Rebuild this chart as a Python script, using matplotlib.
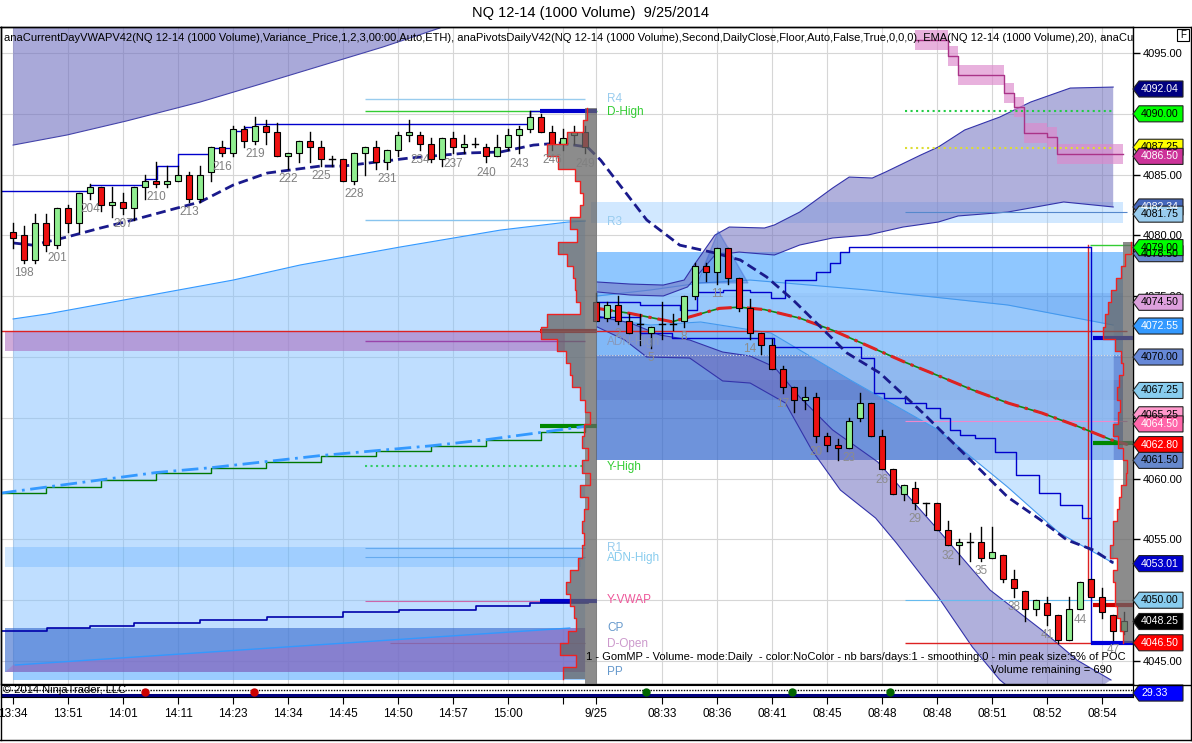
import numpy as np
import matplotlib
matplotlib.use("Agg")
import matplotlib.pyplot as plt
from matplotlib.patches import Polygon, Rectangle
from matplotlib.lines import Line2D

plt.rcParams['font.family'] = ['Liberation Sans', 'DejaVu Sans']

# ---------------- candles ----------------
# previous session, bars 197..249
prev_first = 197
prev_open = [4080.25, 4080.0, 4078.0, 4081.0, 4079.25, 4082.25, 4081.0, 4083.5, 4084.0, 4082.5,
             4082.75, 4082.25, 4084.0, 4084.5, 4084.25, 4084.5, 4085.0, 4083.0, 4085.25, 4087.25,
             4086.75, 4088.75, 4087.75, 4089.0, 4088.5, 4086.5, 4086.75, 4087.75, 4087.25, 4086.25,
             4086.25, 4084.5, 4086.75, 4087.25, 4086.0, 4087.0, 4088.25, 4088.25, 4087.5, 4086.25,
             4088.0, 4087.25, 4087.5, 4087.25, 4086.5, 4087.25, 4088.25, 4088.75, 4089.75, 4088.5,
             4087.5, 4088.25, 4088.5]
prev_high = [4081.0, 4080.75, 4081.75, 4081.75, 4082.25, 4082.5, 4083.5, 4084.25, 4084.0, 4084.0,
             4083.5, 4084.0, 4085.0, 4086.0, 4085.75, 4085.75, 4085.25, 4085.75, 4087.25, 4087.75,
             4089.0, 4089.0, 4089.75, 4089.5, 4089.25, 4086.75, 4087.75, 4088.5, 4087.75, 4086.5,
             4086.25, 4086.75, 4087.25, 4087.75, 4087.0, 4088.5, 4089.5, 4088.5, 4088.0, 4088.0,
             4088.5, 4088.25, 4088.0, 4087.5, 4088.25, 4088.75, 4089.0, 4090.25, 4090.0, 4089.0,
             4088.75, 4089.0, 4089.0]
prev_low = [4079.0, 4077.75, 4077.75, 4078.75, 4079.0, 4080.25, 4080.25, 4083.0, 4082.0, 4081.5,
            4081.75, 4081.25, 4083.0, 4084.0, 4084.0, 4084.5, 4082.75, 4082.75, 4084.5, 4086.5,
            4086.5, 4087.25, 4087.5, 4087.5, 4086.5, 4085.5, 4086.0, 4086.0, 4085.75, 4085.75,
            4084.5, 4084.25, 4085.0, 4085.5, 4085.5, 4086.5, 4087.75, 4087.0, 4086.0, 4085.75,
            4086.75, 4086.75, 4087.25, 4086.0, 4086.5, 4087.0, 4086.75, 4088.5, 4088.5, 4087.0,
            4087.0, 4087.5, 4086.75]
prev_close = [4079.75, 4078.0, 4081.0, 4079.25, 4082.25, 4081.0, 4083.5, 4084.0, 4082.5, 4082.75,
              4082.25, 4084.0, 4084.5, 4084.25, 4084.5, 4085.0, 4083.0, 4085.0, 4087.25, 4086.75,
              4088.75, 4087.75, 4089.0, 4088.5, 4086.5, 4086.75, 4087.75, 4087.25, 4086.25, 4086.25,
              4084.5, 4086.75, 4087.25, 4086.0, 4087.0, 4088.25, 4088.5, 4087.5, 4086.25, 4088.0,
              4087.25, 4087.5, 4087.5, 4086.5, 4087.25, 4088.25, 4088.75, 4089.75, 4088.5, 4087.5,
              4088.0, 4088.5, 4087.25]

# 9/25 session, bars 0..48 (drawn right after bar 249)
today_first = 250
today_open = [4074.5, 4073.25, 4074.25, 4073.0, 4072.75, 4072.0, 4072.75, 4072.75, 4073.0, 4075.0,
              4077.5, 4077.0, 4079.0, 4076.5, 4074.0, 4072.0, 4071.0, 4069.0, 4067.5, 4066.5,
              4066.75, 4063.5, 4062.75, 4062.5, 4065.0, 4066.25, 4063.5, 4060.75, 4058.75, 4059.25,
              4058.0, 4058.0, 4055.75, 4054.5, 4054.75, 4054.75, 4053.5, 4053.75, 4051.75, 4050.75,
              4049.25, 4049.75, 4048.75, 4046.75, 4049.25, 4051.75, 4050.25, 4048.75, 4047.5]
today_high = [4075.25, 4074.5, 4075.0, 4073.5, 4073.5, 4072.5, 4074.5, 4073.5, 4075.0, 4077.75,
              4077.75, 4079.0, 4079.0, 4076.5, 4074.75, 4072.0, 4071.5, 4069.25, 4067.5, 4067.5,
              4067.0, 4063.75, 4063.25, 4065.0, 4067.0, 4066.25, 4064.0, 4060.75, 4059.5, 4059.75,
              4058.0, 4058.0, 4056.5, 4055.0, 4055.5, 4056.0, 4056.0, 4053.75, 4052.5, 4050.75,
              4050.0, 4050.25, 4048.75, 4050.25, 4051.5, 4051.75, 4051.0, 4048.75, 4049.0]
today_low = [4073.0, 4073.0, 4072.75, 4072.0, 4071.0, 4070.75, 4071.5, 4072.25, 4072.5, 4074.75,
             4076.25, 4076.0, 4076.0, 4073.75, 4071.5, 4070.25, 4069.0, 4067.0, 4065.5, 4065.75,
             4063.0, 4062.25, 4061.5, 4062.5, 4064.75, 4063.5, 4060.75, 4058.75, 4058.25, 4057.5,
             4057.0, 4055.75, 4054.5, 4053.0, 4053.25, 4053.25, 4053.5, 4051.5, 4050.25, 4048.25,
             4048.75, 4048.0, 4046.5, 4046.75, 4049.25, 4050.25, 4048.5, 4046.75, 4047.25]
today_close = [4073.0, 4074.25, 4073.0, 4072.0, 4072.75, 4072.5, 4072.75, 4072.75, 4075.0, 4077.5,
               4077.0, 4079.0, 4076.5, 4074.0, 4072.0, 4071.0, 4069.0, 4067.5, 4066.5, 4066.75,
               4063.5, 4062.75, 4062.5, 4064.75, 4066.25, 4063.5, 4060.75, 4058.75, 4059.5, 4058.0,
               4058.0, 4055.75, 4054.5, 4054.75, 4054.75, 4053.5, 4054.0, 4051.75, 4051.0, 4049.25,
               4050.0, 4048.75, 4046.75, 4049.25, 4051.5, 4050.25, 4049.0, 4047.5, 4048.25]

# ---------------- indicator lines (bar index, price) ----------------
vwap_idx = [197.0, 198.8, 201.9, 204.9, 207.9, 211.9, 214.0, 217.0, 220.1, 224.9, 227.0, 233.1,
            238.3, 241.3, 244.3, 246.7, 249.2, 250.4, 254.6, 257.6, 260.6, 263.1, 265.5, 267.9,
            270.4, 272.8, 275.8, 279.7, 284.3, 287.4, 290.4, 292.8, 295.2, 297.0]
vwap_px = [4079.38, 4079.2, 4079.87, 4080.6, 4081.27, 4082.25, 4082.75, 4084.14, 4085.13, 4085.7,
           4085.7, 4086.37, 4086.78, 4086.86, 4087.43, 4087.6, 4087.27, 4086.2, 4081.27, 4079.2,
           4078.6, 4077.98, 4076.58, 4074.69, 4072.47, 4070.33, 4068.68, 4065.4, 4061.28, 4058.49,
           4056.6, 4054.95, 4054.13, 4053.07]

# previous session: upper band edge and lower (blue) area edge
prev_upper_idx = [197.0, 201.9, 207.3, 214.0, 219.5, 230.6, 235.8]
prev_upper_px = [4087.43, 4088.26, 4089.41, 4090.97, 4092.45, 4095.49, 4097.06]
prev_lower_idx = [197.0, 200.1, 217.0, 223.1, 232.2, 241.3, 247.4, 249.0]
prev_lower_px = [4073.13, 4073.54, 4076.33, 4077.57, 4079.05, 4080.44, 4081.10, 4081.18]

# previous session step lines
prev_hi_step_idx = [195.8, 204.0, 209.0, 210.1, 212.0, 215.1, 216.9, 218.1, 219.0, 244.0, 249.5]
prev_hi_step_px = [4083.68, 4084.14, 4084.63, 4085.67, 4086.69, 4087.16, 4088.6, 4088.9, 4089.16, 4090.2, 4090.2]
prev_lo_step_idx = [195.8, 200.1, 204.0, 208.0, 214.0, 220.1, 227.0, 232.1, 239.1, 244.0, 249.3]
prev_lo_step_px = [4047.47, 4047.71, 4047.88, 4048.15, 4048.37, 4048.64, 4049.03, 4049.22, 4049.52, 4049.77, 4049.77]
prev_ema_idx = [195.8, 200, 205, 210, 215, 220, 225, 230, 235, 240, 245, 249]
prev_ema_px = [4058.8, 4059.3, 4059.9, 4060.5, 4060.9, 4061.4, 4061.9, 4062.3, 4062.7, 4063.2, 4063.8, 4064.3]

# 9/25 session bands
up_top_idx = [250.1, 253.1, 256.1, 258.0, 258.9, 260.8, 262.1, 265.3, 266.2, 268.5, 271.5, 273.0,
              275.1, 276.3, 279.5, 281.1, 283.5, 286.7, 289.5, 293.1, 297.0]
up_top_px = [4076.17, 4076.0, 4075.92, 4076.33, 4077.57, 4080.03, 4080.69, 4080.61, 4080.86, 4081.92,
             4083.90, 4084.80, 4084.72, 4085.21, 4086.61, 4087.27, 4088.67, 4089.74, 4090.97, 4092.12, 4092.20]
up_bot_idx = [250.1, 253.1, 256.1, 258.3, 260.8, 263.0, 266.2, 268.5, 271.5, 274.7, 277.9, 281.1,
              282.9, 287.4, 292.5, 297.0]
up_bot_px = [4075.35, 4075.10, 4075.02, 4075.76, 4078.39, 4078.63, 4078.39, 4079.21, 4079.79, 4080.03,
             4080.69, 4081.10, 4081.60, 4081.92, 4082.75, 4082.34]
lo_top_idx = [250.1, 253.1, 255.8, 258.5, 261.5, 264.0, 266.2, 268.5, 271.5, 275.6, 281.1, 285.8,
              290.5, 293.7, 296.8]
lo_top_px = [4073.37, 4072.80, 4071.81, 4071.40, 4070.41, 4070.08, 4069.18, 4066.71, 4064.00, 4061.37,
             4055.77, 4050.84, 4047.55, 4045.08, 4043.44]
lo_bot_idx = [250.1, 252.6, 254.6, 258.5, 261.5, 264.0, 267.2, 269.6, 272.2, 275.4, 277.3, 281.1,
              284.2, 286.7, 291.2]
lo_bot_px = [4072.47, 4071.40, 4070.00, 4069.92, 4068.03, 4067.86, 4066.22, 4062.35, 4059.06, 4056.76,
             4054.70, 4050.26, 4046.15, 4043.44, 4040.15]
in_top_idx = [250.1, 254.9, 259.5, 264.0, 274.7, 287.4, 297.0]
in_top_px = [4075.02, 4075.51, 4076.09, 4076.33, 4075.51, 4074.28, 4072.63]
in_bot_idx = [250.1, 254.9, 259.5, 265.9, 273.1, 281.1, 287.4, 292.1, 297.0]
in_bot_px = [4073.21, 4072.63, 4072.88, 4071.97, 4068.11, 4064.00, 4059.31, 4055.53, 4053.06]

ema_idx = [250.1, 253.0, 256.9, 258.9, 261.2, 263.0, 265.3, 268.5, 271.5, 275.5, 278.0, 281.0,
           284.2, 287.5, 290.5, 293.5, 296.8, 298.3]
ema_px = [4074.0, 4073.6, 4072.9, 4073.4, 4074.0, 4074.1, 4073.9, 4073.2, 4072.2, 4070.6, 4069.6,
          4068.5, 4067.3, 4066.2, 4065.4, 4064.4, 4063.2, 4062.8]

hi_step_idx = [250.1, 254.0, 257.6, 259.2, 261.5, 264.0, 265.9, 267.2, 270.0, 271.3, 272.2, 273.0, 294.9]
hi_step_px = [4074.52, 4074.28, 4073.87, 4075.35, 4075.51, 4075.35, 4074.85, 4076.33, 4076.99, 4077.73,
              4078.63, 4079.05, 4079.05]
lo_step_idx = [250.1, 254.0, 256.9, 266.2, 274.1, 275.3, 276.2, 278.1, 280.0, 281.3, 282.2, 283.1,
               284.4, 286.3, 288.2, 290.3, 292.2, 294.2, 294.9]
lo_step_px = [4073.29, 4071.97, 4071.56, 4070.82, 4069.92, 4067.04, 4066.63, 4066.22, 4065.81, 4064.98,
              4064.00, 4063.59, 4063.34, 4062.19, 4060.30, 4058.82, 4057.83, 4056.76, 4056.76]

pink_idx = [279.0, 282.0, 282.9, 287.1, 288.0, 288.9, 291.0, 291.9, 297.9]
pink_px = [4096.07, 4094.75, 4093.19, 4091.71, 4090.56, 4088.42, 4088.09, 4086.69, 4086.69]

triangle_idx = [261.1, 259.2, 263.8]
triangle_px = [4080.36, 4076.09, 4076.09]

# volume profiles (price level, volume)
prev_prof_price = [4090, 4089, 4088, 4087, 4086, 4085, 4084, 4083, 4082, 4081, 4080, 4079, 4078, 4077,
                   4076, 4075, 4074, 4073, 4072, 4071, 4070, 4069, 4068, 4067, 4066, 4065, 4064, 4063,
                   4062, 4061, 4060, 4059, 4058, 4057, 4056, 4055, 4054, 4053, 4052, 4051, 4050, 4049,
                   4048, 4047, 4046, 4045, 4044]
prev_prof_vol = [10, 14, 30, 50, 39, 22, 17, 14, 17, 27, 20, 39, 30, 24, 22, 21, 17, 50, 56, 40, 31, 27,
                 25, 17, 12, 7, 13, 15, 9, 15, 7, 17, 9, 13, 15, 13, 15, 19, 27, 31, 27, 23, 21, 29,
                 37, 21, 34]
today_prof_price = [4079, 4078, 4077, 4076, 4075, 4074, 4073, 4072, 4071, 4070, 4069, 4068, 4067, 4066,
                    4065, 4064, 4063, 4062, 4061, 4060, 4059, 4058, 4057, 4056, 4055, 4054, 4053, 4052,
                    4051, 4050, 4049, 4048, 4047]
today_prof_vol = [2, 8, 12, 17, 22, 25, 28, 30, 18, 12, 10, 14, 16, 13, 15, 20, 15, 10, 6, 7, 12, 14,
                  16, 20, 20, 23, 16, 20, 18, 18, 16, 13, 10]

# axis texts
prev_ticks = [197, 202, 207, 212, 217, 222, 227, 232, 237, 242, 247]
prev_tick_labels = ['13:34', '13:51', '14:01', '14:11', '14:23', '14:34', '14:45', '14:50', '14:57', '15:00', '']
today_ticks = [250, 256, 261, 266, 271, 276, 281, 286, 291, 296]
today_tick_labels = ['9/25', '08:33', '08:36', '08:41', '08:45', '08:48', '08:48', '08:51', '08:52', '08:54']
price_ticks = [4045, 4050, 4055, 4060, 4065, 4070, 4075, 4080, 4085, 4090, 4095]
# 4050 / 4070 / 4090 sit fully under price tags in the original, so they stay blank
price_tick_labels = ['4045.00', '', '4055.00', '4060.00', '4065.00', '', '4075.00', '4080.00',
                     '4085.00', '', '4095.00']

level_names = ['R4', 'D-High', 'R3', 'ADN-High', 'Y-High', 'R1', 'ADN-High', 'Y-VWAP', 'CP', 'D-Open', 'PP']
level_px = [4091.22, 4090.15, 4081.10, 4071.24, 4060.95, 4054.29, 4053.47, 4050.02, 4047.71, 4046.40, 4044.10]
level_col = ['#99ccee', '#33cc33', '#99ccee', '#8899bb', '#33cc33', '#99ccee', '#88ccee', '#ee5599',
             '#6699cc', '#cc99cc', '#6699cc']

tag_px = [4092.04, 4090.00, 4087.25, 4086.50, 4082.34, 4081.75, 4078.50, 4079.00, 4074.50, 4072.55,
          4070.00, 4067.25, 4065.25, 4064.50, 4062.80, 4061.50, 4053.01, 4050.00, 4048.25, 4046.50]
tag_face = ['#000080', '#00ff00', '#ffff00', '#cc3399', '#4466bb', '#99ccee', '#6688cc', '#00ff00',
            '#dda0dd', '#3399ff', '#6688d8', '#88ccee', '#ff99cc', '#ff66aa', '#ff0000', '#6688cc',
            '#0000cc', '#88ccee', '#000000', '#ff0000']
tag_tc = ['white', 'black', 'black', 'white', 'white', 'black', 'black', 'black', 'black', 'white',
          'black', 'black', 'black', 'white', 'white', 'black', 'white', 'black', 'white', 'white']

header = ("anaCurrentDayVWAPV42(NQ 12-14 (1000 Volume),Variance_Price,1,2,3,00:00,Auto,ETH), "
          "anaPivotsDailyV42(NQ 12-14 (1000 Volume),Second,DailyClose,Floor,Auto,False,True,0,0,0), "
          "EMA(NQ 12-14 (1000 Volume),20), anaCurrentDayOHL")

# ---------------- figure ----------------
W, H = 1192, 743
fig = plt.figure(figsize=(W / 100, H / 100), dpi=100)
fig.patch.set_facecolor('white')


def fx(p):
    return p / W


def fy(p):
    return 1 - p / H


ax = fig.add_axes([fx(1), fy(684), fx(1133) - fx(1), fy(27) - fy(684)])
ax.set_xlim(195.9, 298.8)
ax.set_ylim(4043.11, 4097.14)

for t in prev_ticks + today_ticks:
    ax.axvline(t, color='#d6d6d6', lw=0.8, zorder=0.5)
for p in price_ticks:
    ax.axhline(p, color='#d6d6d6', lw=0.8, zorder=0.5)

# previous-session areas
ax.add_patch(Polygon([(197.0, 4098)] + list(zip(prev_upper_idx, prev_upper_px)) + [(236.5, 4098)],
                     closed=True, fc='#7070c0', alpha=0.6, ec='none', zorder=1))
ax.plot(prev_upper_idx, prev_upper_px, color='#4444aa', lw=0.8, zorder=1.1)
ax.add_patch(Polygon([(197.0, 4043.44)] + list(zip(prev_lower_idx, prev_lower_px)) + [(249.0, 4043.44)],
                     closed=True, fc='#80bfff', alpha=0.5, ec='none', zorder=1))
ax.plot(prev_lower_idx, prev_lower_px, color='#3399ff', lw=0.8, zorder=1.1)
ax.add_patch(Rectangle((196.3, 4070.49), 50.9, 1.57, fc='#aa66bb', alpha=0.55, ec='none', zorder=1.2))
ax.add_patch(Rectangle((196.3, 4052.73), 52.3, 1.65, fc='#3399ff', alpha=0.22, ec='none', zorder=1.2))
ax.add_patch(Rectangle((196.3, 4044.10), 52.7, 3.61, fc='#3366cc', alpha=0.6, ec='none', zorder=1.2))
ax.add_patch(Polygon([(197.0, 4044.67), (247.6, 4047.71), (249.0, 4047.71), (249.0, 4044.10), (196.3, 4044.10)],
                     closed=True, fc='#aa66bb', alpha=0.45, ec='none', zorder=1.3))
ax.plot([197.2, 247.6], [4044.67, 4047.71], color='#3399ff', lw=1, zorder=1.4)
ax.add_patch(Rectangle((197.0, 4043.44), 52.0, 0.66, fc='#3399ff', alpha=0.25, ec='none', zorder=1.2))

# 9/25 zones
ax.add_patch(Rectangle((249.5, 4081.02), 48.4, 1.73, fc='#99ccff', alpha=0.45, ec='none', zorder=1))
ax.add_patch(Rectangle((250.0, 4061.53), 47.9, 17.1, fc='#3399ff', alpha=0.55, ec='none', zorder=1))
ax.add_patch(Rectangle((250.0, 4070.17), 47.9, 5.09, fc='#3366cc', alpha=0.15, ec='none', zorder=1.05))
ax.add_patch(Rectangle((250.0, 4061.53), 47.9, 8.64, fc='#333399', alpha=0.35, ec='none', zorder=1.05))
ax.add_patch(Rectangle((250.0, 4066.46), 47.9, 1.65, fc='#333399', alpha=0.12, ec='none', zorder=1.06))

# inner light band
in_x = sorted(set(in_top_idx + in_bot_idx))
ax.fill_between(in_x, np.interp(in_x, in_bot_idx, in_bot_px), np.interp(in_x, in_top_idx, in_top_px),
                color='#a8d4ff', alpha=0.6, lw=0, zorder=1.5)
ax.plot(in_top_idx, in_top_px, color='#4499ee', lw=0.8, zorder=1.55)
ax.plot(in_bot_idx, in_bot_px, color='#4499ee', lw=0.8, zorder=1.55)

# upper / lower deviation bands
for ti, tp, bi, bp in [(up_top_idx, up_top_px, up_bot_idx, up_bot_px),
                       (lo_top_idx, lo_top_px, lo_bot_idx, lo_bot_px)]:
    verts = list(zip(ti, tp)) + list(zip(bi, bp))[::-1]
    ax.add_patch(Polygon(verts, closed=True, fc='#7070c0', alpha=0.55, ec='none', zorder=1.7))
    ax.plot(ti, tp, color='#3333aa', lw=0.8, zorder=1.75)
    ax.plot(bi, bp, color='#3333aa', lw=0.8, zorder=1.75)

ax.add_patch(Polygon(list(zip(triangle_idx, triangle_px)), closed=True, fc='#3366cc', alpha=0.35,
                     ec='#3355cc', lw=1, zorder=1.8))

# pink stair band
pc = np.array(pink_px)
ax.fill_between(pink_idx, pc - 0.85, pc + 0.85, step='post', color='#dd88cc', alpha=0.65, lw=0, zorder=1.8)
ax.step(pink_idx, pink_px, where='post', color='#aa3388', lw=1, zorder=1.85)

# horizontal levels (start, end, price, colour, width, style)
level_lines = [
    (229.0, 249.0, 4091.22, '#99ccee', 1, '-'), (229.0, 250.1, 4090.23, '#33cc33', 1, '-'),
    (244.9, 250.1, 4090.23, '#0000cc', 3, '-'), (229.0, 249.0, 4081.27, '#88c4ee', 1, '-'),
    (229.0, 249.0, 4071.32, '#9944aa', 1, '-'), (229.0, 249.0, 4061.04, '#33cc66', 1.5, ':'),
    (229.0, 249.0, 4054.29, '#66aaee', 0.8, '-'), (229.0, 249.0, 4053.55, '#66aaee', 0.8, '-'),
    (229.0, 249.0, 4049.93, '#cc66aa', 0.8, '-'), (244.9, 250.1, 4049.93, '#0000cc', 3, '-'),
    (244.9, 250.1, 4064.33, '#008800', 3, '-'), (244.9, 250.1, 4072.14, '#cc0000', 3, '-'),
    (231.3, 249.0, 4046.48, '#8866aa', 0.8, '-'),
    (195.8, 298.3, 4072.14, '#dd2222', 1, '-'),
    (278.1, 297.0, 4090.23, '#22cc44', 1.5, ':'), (278.1, 297.0, 4087.19, '#dddd33', 1.5, ':'),
    (278.1, 298.3, 4081.92, '#5588cc', 0.8, '-'), (294.9, 298.8, 4079.21, '#33cc33', 1, '-'),
    (295.2, 298.8, 4071.56, '#0000cc', 3, '-'), (278.1, 298.3, 4064.74, '#ee88cc', 0.8, '-'),
    (295.2, 298.8, 4062.93, '#008800', 3, '-'), (278.1, 297.0, 4050.02, '#66bbee', 0.8, '-'),
    (295.2, 298.8, 4049.6, '#cc0000', 3, '-'), (278.1, 298.3, 4046.48, '#dd2222', 1, '-'),
    (295.0, 298.8, 4046.48, '#0000dd', 3, '-'), (250.1, 297.9, 4070.17, '#dddddd', 0.8, ':'),
]
for x0, x1, p, c, lw, ls in level_lines:
    ax.plot([x0, x1], [p, p], color=c, lw=lw, ls=ls, zorder=2, solid_capstyle='butt')

ax.plot([294.7, 294.7], [4079.2, 4050.4], color='#dd2222', lw=1, zorder=2)
ax.plot([295.0, 295.0], [4079.05, 4046.48], color='#0000cc', lw=1, zorder=2)

# step lines and averages
ax.step(prev_hi_step_idx, prev_hi_step_px, where='post', color='#0000cc', lw=1, zorder=2.5)
ax.step(prev_lo_step_idx, prev_lo_step_px, where='post', color='#0000aa', lw=1.2, zorder=2.5)
ax.step(prev_ema_idx, prev_ema_px, where='post', color='#007700', lw=1, zorder=2.5)
ax.plot(prev_ema_idx, prev_ema_px, color='#3399ff', lw=2, ls=(0, (6, 2, 1, 2)), zorder=2.6)
ax.step(hi_step_idx, hi_step_px, where='post', color='#0000cc', lw=1, zorder=2.5)
ax.step(lo_step_idx, lo_step_px, where='post', color='#0000cc', lw=1, zorder=2.5)
ax.plot(ema_idx, ema_px, color='#118811', lw=1.2, zorder=2.5)
ax.plot(ema_idx, ema_px, color='#dd2222', lw=2.2, ls=(0, (5, 2, 1, 2)), zorder=2.6)
ax.plot(vwap_idx, vwap_px, color='#1a1a8c', lw=2, ls=(0, (3.5, 1.8)), zorder=3)


# candles
def draw_candles(first, o, h, l, c):
    for k in range(len(o)):
        i = first + k
        ax.plot([i, i], [l[k], h[k]], color='black', lw=1, zorder=4)
        if o[k] == c[k]:
            ax.plot([i - 0.3, i + 0.3], [o[k], o[k]], color='black', lw=1, zorder=4.1)
        else:
            fc = '#90ee90' if c[k] > o[k] else '#ee1111'
            ax.add_patch(Rectangle((i - 0.3, min(o[k], c[k])), 0.6, abs(c[k] - o[k]),
                                   fc=fc, ec='black', lw=0.8, zorder=4.1))


draw_candles(prev_first, prev_open, prev_high, prev_low, prev_close)
draw_candles(today_first, today_open, today_high, today_low, today_close)

# bar numbers
for k in range(1, len(prev_open), 3):
    ax.annotate(str(prev_first + k), (prev_first + k, prev_low[k]), xytext=(0, -3),
                textcoords='offset points', ha='center', va='top', fontsize=8.5, color='#808080', zorder=6)
for k in range(2, len(today_open), 3):
    ax.annotate(str(k), (today_first + k, today_low[k]), xytext=(0, -3),
                textcoords='offset points', ha='center', va='top', fontsize=8.5, color='#8c8c8c', zorder=6)

# volume profiles
bar_per_vol = 1 / 11.0


def draw_profile(prices, vols, anchor, strip, lo, hi):
    ax.add_patch(Rectangle((anchor - strip, lo), strip, hi - lo, fc='#666666', alpha=0.75, ec='none', zorder=5))
    xs, ys = [], []
    for p, v in zip(prices, vols):
        w = v * bar_per_vol
        if w > strip:
            ax.add_patch(Rectangle((anchor - w, p - 0.5), w - strip, 1.0, fc='#666666', alpha=0.75,
                                   ec='none', zorder=5))
        xs += [anchor - w, anchor - w]
        ys += [p + 0.5, p - 0.5]
    ax.plot(xs, ys, color='#ee2222', lw=1, zorder=5.5)


draw_profile(prev_prof_price, prev_prof_vol, 250.1, 1.1, 4043.11, 4090.5)
draw_profile(today_prof_price, today_prof_vol, 298.8, 0.9, 4046.5, 4079.5)

# level names
for name, p, c in zip(level_names, level_px, level_col):
    ax.text(251.0, p, name, color=c, fontsize=8.5, va='center', ha='left', zorder=6)

ax.text(0.003, 0.983, header, transform=ax.transAxes, fontsize=8, va='center', ha='left',
        clip_on=True, zorder=7)
ax.text(0.9935, 0.0411, "1 - GomMP - Volume- mode:Daily  - color:NoColor - nb bars/days:1 - smoothing:0 - min peak size:5% of POC",
        transform=ax.transAxes, fontsize=8, ha='right', va='center', zorder=7)
ax.text(0.981, 0.0213, "Volume remaining = 690", transform=ax.transAxes, fontsize=8,
        ha='right', va='center', zorder=7)

# price axis
ax.set_xticks([])
ax.yaxis.tick_right()
ax.set_yticks(price_ticks)
ax.set_yticklabels(price_tick_labels)
ax.tick_params(axis='y', direction='out', length=5, pad=2, labelsize=8, width=1)
for s in ax.spines.values():
    s.set_linewidth(1)


def draw_tag(axis, y, text, face, tc, half):
    tr = axis.get_yaxis_transform()
    px = 1.0 / 1132
    verts = [(1.0, y), (1 + 6 * px, y + half), (1 + 50 * px, y + half), (1 + 50 * px, y - half),
             (1 + 6 * px, y - half)]
    axis.add_patch(Polygon(verts, closed=True, transform=tr, fc=face, ec='#222222', lw=0.8,
                           clip_on=False, zorder=20))
    axis.text(1 + 8 * px, y, text, transform=tr, color=tc, fontsize=7.6, va='center', ha='left',
              clip_on=False, zorder=21)


for p, t, f, c in zip(tag_px, ['%.2f' % v for v in tag_px], tag_face, tag_tc):
    draw_tag(ax, p, t, f, c, 0.66)

# small indicator panel
ax2 = fig.add_axes([fx(1), fy(697), fx(1133) - fx(1), fy(685) - fy(697)])
ax2.set_xlim(ax.get_xlim())
ax2.set_ylim(0, 1)
ax2.plot([195.8, 298.8], [0.6, 0.6], color='black', lw=1, ls=(0, (1, 1)))
ax2.plot([195.8, 298.8], [0.2, 0.2], color='#000080', lw=2.2)
panel_green = [254.5, 267.8, 276.7]
panel_red = [209.0, 218.9]
ax2.plot(panel_green, [0.45] * 3, 'o', color='#006400', ms=5, clip_on=True)
ax2.plot(panel_red, [0.45] * 2, 'o', color='#cc0000', ms=5, clip_on=True)
ax2.set_yticks([])
ax2.set_xticks(prev_ticks + today_ticks)
ax2.set_xticklabels(prev_tick_labels + today_tick_labels)
ax2.tick_params(axis='x', direction='out', length=5, pad=3, labelsize=8.5)
draw_tag(ax2, 0.33, '29.33', '#0000ff', 'white', 0.67)

fig.text(fx(3), fy(690), '\u00a9 2014 NinjaTrader, LLC', fontsize=8, va='center', ha='left')
fig.text(fx(590), fy(13), 'NQ 12-14 (1000 Volume)  9/25/2014', fontsize=10.5, ha='center', va='center')

# outer frame
for (x0, y0, x1, y1) in [(0, 27, 1192, 27), (1133, 685, 1192, 685), (1191, 27, 1191, 740),
                         (0, 740, 1192, 740), (0.5, 27, 0.5, 740)]:
    fig.add_artist(Line2D([fx(x0), fx(x1)], [fy(y0), fy(y1)], color='black', lw=1))
fig.add_artist(Rectangle((fx(1177), fy(41)), fx(12), 12 / H, fill=False, ec='black', lw=0.8))
fig.text(fx(1183), fy(35), 'F', fontsize=7, ha='center', va='center')

fig.savefig('out.png', dpi=100)
